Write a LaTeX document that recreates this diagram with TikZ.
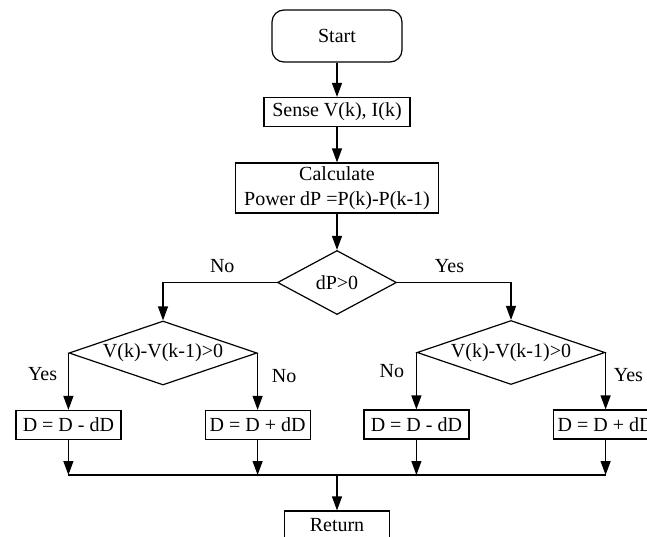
\documentclass[tikz,border=0pt]{standalone}
\usepackage{fontspec}
\setmainfont{Liberation Serif}
\usepackage{tikz}
\usetikzlibrary{arrows.meta,positioning,shapes.geometric}

\begin{document}
\begin{tikzpicture}[x=1pt,y=1pt,node distance=2cm,on grid,auto,
    line width=0.6pt,>={Triangle[length=7pt,width=5pt]},
    term/.style={draw,rounded corners=6pt,minimum width=65pt,minimum height=26pt},
    proc/.style={draw,inner sep=0pt,minimum width=52.5pt,minimum height=14.5pt},
    dec/.style={draw,diamond,inner sep=0pt,aspect=2.9,minimum width=94pt,minimum height=32pt}]
      \clip (0,0) rectangle (323.5,-268);
      \node[term] (start) at (168.5,-18) {Start};
      \node[proc,minimum width=73pt] (sense) [below=38pt of start] {Sense V(k), I(k)};
      \node[proc,minimum width=101.5pt,minimum height=25pt,align=center] (calc) [below=38pt of sense] {Calculate\\[0.5pt]Power dP =P(k)-P(k-1)};
      \node[dec,aspect=1.86,minimum width=59.5pt] (dp) [below=47.25pt of calc] {dP>0};
      \node[dec] (vl) [below left=35.25pt and 87pt of dp] {V(k)-V(k-1)>0};
      \node[dec] (vr) [below right=35pt and 87pt of dp] {V(k)-V(k-1)>0};
      \node[proc] (dl1) [below=36pt of vl.west,anchor=center] {D = D - dD};
      \node[proc] (dl2) [below=36pt of vl.east,anchor=center] {D = D + dD};
      \node[proc] (dr1) [below=36pt of vr.west,anchor=center] {D = D - dD};
      \node[proc] (dr2) [below=36pt of vr.east,anchor=center] {D = D + dD};
      \coordinate (m) at (168.5,-237.5);
      \node[proc] (ret) [below=25.25pt of m,anchor=center] {Return};
      \draw[->] (start) -- (sense);
      \draw[->] (sense) -- (calc);
      \draw[->] (calc) -- (dp);
      \draw[->] (dp.west) -| node[pos=0.24,above=1.5pt] {No} (vl.north);
      \draw[->] (dp.east) -| node[pos=0.23,above=1.5pt] {Yes} (vr.north);
      \draw[->] (vl.west) -- node[pos=0.37,left=2pt] {Yes} (dl1);
      \draw[->] (vl.east) -- node[pos=0.4,right=3.5pt] {No} (dl2);
      \draw[->] (vr.west) -- node[pos=0.33,left=2.5pt] {No} (dr1);
      \draw[->] (vr.east) -- node[pos=0.4,right=0.5pt] {Yes} (dr2);
      \foreach \d in {dl1,dl2,dr1,dr2}
        \draw[->] (\d) -- (\d |- m);
      \draw (dl1 |- m) -- (dr2 |- m);
      \draw[->] (m) -- (ret);
    \end{tikzpicture}
\end{document}
